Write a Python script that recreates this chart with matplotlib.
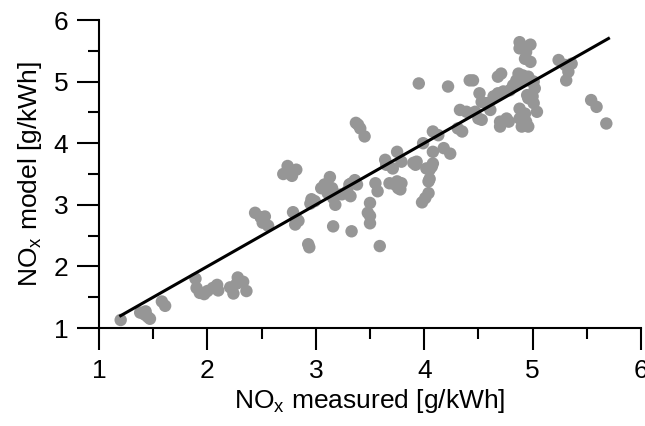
import matplotlib
matplotlib.use("Agg")
import matplotlib.pyplot as plt
from matplotlib.ticker import MultipleLocator

plt.rcParams['font.family'] = ['Liberation Sans', 'DejaVu Sans']
plt.rcParams['mathtext.default'] = 'regular'

# measured vs model NOx [g/kWh]
measured = [1.20,
            1.38, 1.42, 1.45, 1.47, 1.43, 1.58, 1.61,
            1.89, 1.90, 1.93, 1.97, 2.00, 2.05, 2.09, 2.10,
            2.21, 2.24, 2.27, 2.28, 2.33, 2.36,
            2.44, 2.49, 2.53, 2.51, 2.56,
            2.70, 2.74, 2.78, 2.82, 2.76,
            2.79, 2.82, 2.81, 2.84, 2.93, 2.94,
            2.96, 2.95, 2.99,
            3.05, 3.08, 3.11, 3.13, 3.15, 3.19, 3.16, 3.18, 3.16,
            3.24, 3.29, 3.32, 3.33, 3.36, 3.38, 3.31, 3.33,
            3.50, 3.48, 3.50, 3.50, 3.55, 3.57, 3.59,
            3.39, 3.41, 3.45, 3.37,
            3.64, 3.65, 3.71, 3.75, 3.79,
            3.68, 3.73, 3.76, 3.75, 3.79, 3.78,
            3.90, 3.92, 3.93, 3.99,
            4.02, 4.07, 4.08, 4.05, 4.05,
            4.08, 4.13, 4.08, 4.18, 4.24,
            4.04, 4.04, 4.01, 3.98,
            3.95, 4.22, 4.42, 4.45,
            4.31, 4.35,
            4.33, 4.39, 4.47, 4.50, 4.53,
            4.51, 4.53, 4.58, 4.61, 4.64, 4.68, 4.73, 4.79, 4.82, 4.88, 4.91, 4.96, 4.99,
            4.68, 4.71,
            4.70, 4.78, 4.70, 4.76,
            4.88, 4.93, 4.94, 4.88, 4.90, 4.96, 5.01, 5.04,
            4.95, 4.96, 5.00, 5.02, 5.01,
            4.88, 4.93, 4.98, 4.93, 4.98, 4.88, 4.94,
            4.87, 4.91, 4.85,
            5.24, 5.30, 5.36, 5.33, 5.31,
            5.54, 5.59, 5.68]
model = [1.13,
         1.25, 1.22, 1.18, 1.15, 1.27, 1.43, 1.36,
         1.80, 1.65, 1.57, 1.55, 1.60, 1.65, 1.70, 1.61,
         1.66, 1.56, 1.72, 1.82, 1.75, 1.60,
         2.87, 2.80, 2.81, 2.71, 2.66,
         3.50, 3.63, 3.47, 3.57, 3.55,
         2.88, 2.78, 2.68, 2.74, 2.36, 2.31,
         3.09, 3.02, 3.06,
         3.27, 3.33, 3.19, 3.45, 3.27, 3.17, 3.11, 3.00, 2.65,
         3.17, 3.22, 3.14, 3.35, 3.40, 3.33, 3.33, 2.57,
         3.03, 2.87, 2.82, 2.70, 3.35, 3.22, 2.33,
         4.30, 4.24, 4.11, 4.33,
         3.73, 3.65, 3.59, 3.86, 3.70,
         3.35, 3.33, 3.27, 3.38, 3.35, 3.25,
         3.68, 3.65, 3.70, 4.00,
         3.59, 3.62, 3.67, 3.57, 3.42,
         3.86, 4.13, 4.19, 3.92, 3.83,
         3.38, 3.19, 3.11, 3.04,
         4.97, 4.92, 5.02, 5.02,
         4.24, 4.19,
         4.54, 4.51, 4.51, 4.40, 4.38,
         4.81, 4.67, 4.65, 4.54, 4.76, 4.81, 4.84, 4.86, 4.94, 5.00, 5.05, 5.08, 5.00,
         5.08, 5.13,
         4.35, 4.35, 4.27, 4.40,
         4.56, 4.48, 4.35, 4.40, 4.27, 4.27, 4.65, 4.51,
         4.78, 4.73, 4.76, 4.89, 5.00,
         5.64, 5.56, 5.60, 5.37, 5.32, 5.54, 5.48,
         5.13, 5.10, 5.02,
         5.35, 5.27, 5.29, 5.16, 5.02,
         4.70, 4.59, 4.32]

# 1:1 reference line
line_x = [1.2, 5.7]
line_y = [1.2, 5.7]

fig = plt.figure(figsize=(6.45, 4.26), dpi=100)
ax = fig.add_axes([99 / 645, 1 - 328 / 426, 542 / 645, 308 / 426])

ax.scatter(measured, model, s=80, color="#969696", edgecolors="none", zorder=2)
ax.plot(line_x, line_y, color="black", lw=2.2, zorder=3)

ax.set_xlim(1, 6)
ax.set_ylim(1, 6)
ax.xaxis.set_major_locator(MultipleLocator(1))
ax.xaxis.set_minor_locator(MultipleLocator(0.5))
ax.yaxis.set_major_locator(MultipleLocator(1))
ax.yaxis.set_minor_locator(MultipleLocator(0.5))

for s in ["top", "right"]:
    ax.spines[s].set_visible(False)
for s in ["left", "bottom"]:
    ax.spines[s].set_linewidth(1.5)

ax.tick_params(which="major", direction="out", length=16, width=1.5, labelsize=19, pad=6)
ax.tick_params(which="minor", direction="out", length=8, width=1.5)

ax.set_xlabel("NO$_x$ measured [g/kWh]", fontsize=19, labelpad=3)
ax.set_ylabel("NO$_x$ model [g/kWh]", fontsize=19, labelpad=7)

fig.savefig("out.png", dpi=100)
